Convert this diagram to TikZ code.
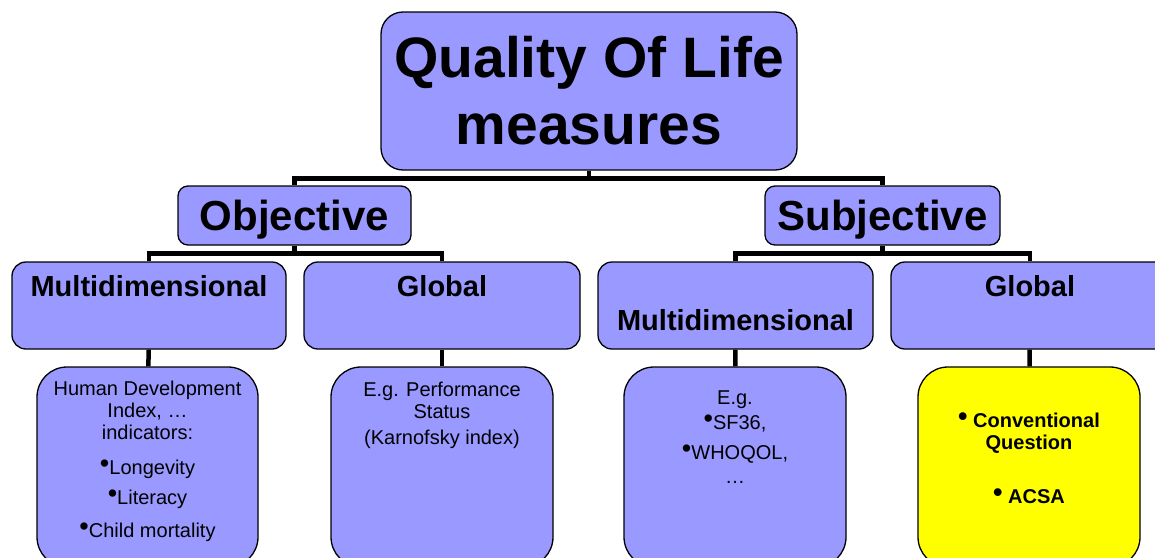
\documentclass[tikz,border=0pt]{standalone}
\usepackage{fontspec}
\setmainfont{Liberation Sans}
\usepackage{graphicx}
\usetikzlibrary{positioning}

\definecolor{qolblue}{RGB}{153,153,255}
\definecolor{qolyellow}{RGB}{255,255,0}
\newcommand{\bul}{\raisebox{2pt}{\scalebox{1.35}{•}}}

\tikzset{
	qbox/.style={draw=black, line width=1.3pt, fill=qolblue, inner sep=0pt},
	bar/.style={line width=4.5pt},
	head/.style={align=center, inner sep=0pt, font=\bfseries\fontsize{29}{33}\selectfont},
	body/.style={align=center, inner sep=0pt, font=\fontsize{20}{22}\selectfont},
}

\begin{document}
\begin{tikzpicture}[x=1pt,y=1pt] %
				\useasboundingbox (0,0) rectangle (1155,-557);
				\clip (0,0) rectangle (1155,-557);
				% Root
				\node[qbox, rounded corners=22pt, minimum width=416pt, minimum height=158pt, align=center,
					font=\bfseries\fontsize{57}{67}\selectfont] (QOL) at (589,-91) {Quality Of Life\\measures} ;
				\node[qbox, rounded corners=10pt, minimum width=233pt, minimum height=59pt, text depth=0pt,
					font=\bfseries\fontsize{42}{48}\selectfont] (Obj) at (294.5,-215.5) {Objective} ;
				\node[qbox, rounded corners=10pt, minimum width=235pt, minimum height=59pt, text depth=0pt,
					font=\bfseries\fontsize{42}{48}\selectfont] (Subj) at (882.5,-215.5) {Subjective} ;
				
				% Second level boxes
				\node[qbox, rounded corners=14pt, minimum width=274pt, minimum height=87pt] (MultiO) at (149,-305.5) {} ;
				\node[qbox, rounded corners=14pt, minimum width=276pt, minimum height=87pt] (GlobO) at (442,-305.5) {} ;
				\node[qbox, rounded corners=14pt, minimum width=275pt, minimum height=87pt] (MultiS) at (735.5,-305.5) {} ;
				\node[qbox, rounded corners=14pt, minimum width=278pt, minimum height=87pt] (GlobS) at (1030,-305.5) {} ;
				\node[head, below=14pt of MultiO.north] (MultiOtxt) {Multidimensional} ;
				\node[head, below=14pt of GlobO.north] (GlobOtxt) {Global} ;
				\node[head, below=48pt of MultiS.north] (MultiStxt) {Multidimensional} ;
				\node[head, below=14pt of GlobS.north] (GlobStxt) {Global} ;
				
				% Examples
				\node[qbox, rounded corners=30pt, minimum width=221pt, minimum height=200pt] (HDI) at (147.5,-467) {} ;
				\node[qbox, rounded corners=30pt, minimum width=222pt, minimum height=200pt] (Perf) at (442,-467) {} ;
				\node[qbox, rounded corners=30pt, minimum width=222pt, minimum height=200pt] (Eg) at (735,-467) {} ;
				\node[qbox, fill=qolyellow, rounded corners=30pt, minimum width=222pt, minimum height=200pt] (Conv) at (1029,-467) {} ;
				\node[body, below=14pt of HDI.north] (HDItxt) {Human Development\\Index, …\\indicators:\\[13pt]
					\bul Longevity\\[8pt]\bul Literacy\\[11pt]\bul Child mortality} ;
				\node[body, below=15pt of Perf.north] (Perftxt) {E.g. Performance\\Status\\[4pt](Karnofsky index)} ;
				\node[body, below=24pt of Eg.north] (Egtxt) {E.g.\\[3pt]\bul SF36,\\[8pt]\bul WHOQOL,\\[2pt]…} ;
				\node[body, font=\bfseries\fontsize{20}{22}\selectfont, below=46pt of Conv.north] (Convtxt)
					{\bul\ Conventional\\Question\\[32pt]\bul\ ACSA} ;
				
				% Tree bars
				\draw[bar] (QOL.south) -- ++(0,-8) -| (Obj.north) ;
				\draw[bar] (QOL.south) -- ++(0,-8) -| (Subj.north) ;
				\draw[bar] (Obj.south) -- ++(0,-8) -| (MultiO.north) ;
				\draw[bar] (Obj.south) -- ++(0,-8) -| (GlobO.north) ;
				\draw[bar] (Subj.south) -- ++(0,-8) -| (MultiS.north) ;
				\draw[bar] (Subj.south) -- ++(0,-8) -| (GlobS.north) ;
				\draw[bar] (MultiO) -- (HDI) ;
				\draw[bar] (GlobO) -- (Perf) ;
				\draw[bar] (MultiS) -- (Eg) ;
				\draw[bar] (GlobS) -- (Conv) ;
			\end{tikzpicture}
\end{document}
